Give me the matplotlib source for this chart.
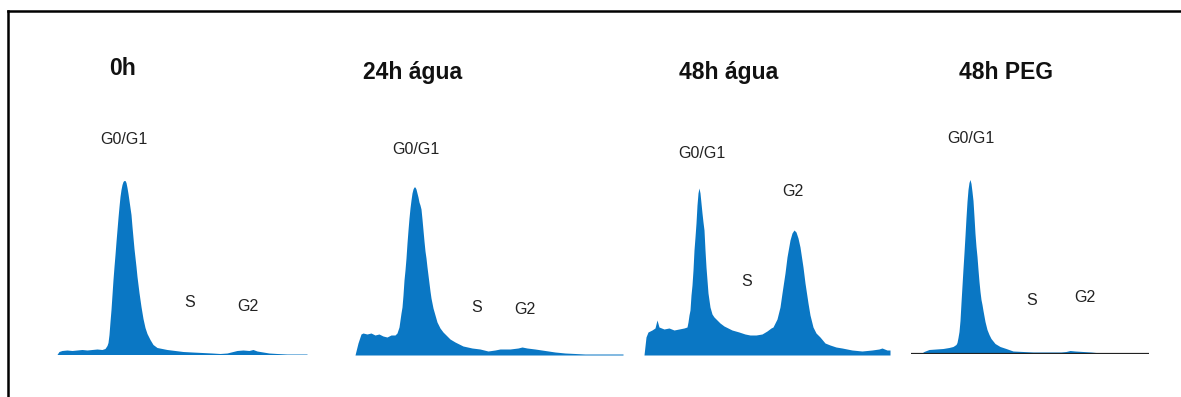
import matplotlib
matplotlib.use('Agg')
import matplotlib.pyplot as plt
from matplotlib.lines import Line2D

# Figure size in pixels
W, H = 1181, 397
dpi = 100

plt.rcParams['font.family'] = ['Liberation Sans', 'DejaVu Sans']

fill_color = '#0a77c4'
label_color = '#222222'

titles = ['0h', '24h água', '48h água', '48h PEG']

# DNA content histograms (channel, cell count)
ch_0h = [0, 2, 5, 10, 15, 20, 25, 30, 35, 40, 45, 48, 50, 51, 52, 53, 54, 55, 56, 57,
         58, 59, 60, 61, 62, 63, 64, 65, 66, 67, 68, 69, 70, 71, 72, 73, 74, 75, 76,
         77, 78, 79, 80, 81, 82, 83, 84, 85, 86, 88, 90, 93, 96, 100, 105, 110, 118,
         126, 135, 145, 155, 163, 170, 176, 180, 186, 192, 196, 200, 206, 212, 220,
         230, 240, 250]
n_0h = [0, 3, 4, 4.5, 4, 4.5, 5, 4.5, 5, 5.5, 5, 6, 9, 12, 20, 33, 45, 60, 75, 88,
        100, 113, 125, 137, 148, 158, 165, 170, 173, 174, 174, 172, 167, 161, 154, 147, 140, 128, 117,
        106, 97, 88, 78, 70, 62, 55, 48, 42, 36, 27, 21, 15, 10, 7, 6, 5, 4,
        3, 2.5, 2, 1.5, 1, 1.5, 3, 4, 4.5, 4, 5, 3.5, 2.5, 1.5, 1,
        0.5, 0.5, 0.5]

ch_24h = [0, 3, 6, 8, 12, 16, 20, 24, 28, 32, 36, 40, 42, 43, 44, 45, 46, 47, 48, 49,
          50, 51, 52, 53, 54, 55, 56, 57, 58, 59, 60, 61, 62, 63, 64, 65, 66, 67, 68,
          69, 70, 71, 72, 73, 74, 75, 76, 77, 78, 80, 82, 85, 88, 91, 95, 100, 108,
          117, 125, 133, 140, 145, 155, 163, 167, 172, 180, 190, 200, 210, 220, 230,
          245, 255, 268]
n_24h = [0, 12, 21, 22, 21, 22, 20, 21, 19, 18, 20, 20, 22, 25, 28, 35, 42, 48, 60, 75,
         85, 97, 112, 125, 137, 147, 155, 162, 166, 168, 168, 166, 162, 158, 153, 150, 146, 136, 125,
         114, 104, 97, 88, 80, 72, 64, 57, 52, 47, 40, 33, 27, 23, 20, 16, 13, 9,
         7, 6, 4, 5, 6, 6, 7, 8, 7, 6, 4.5, 3, 2, 1.5, 1,
         1, 1, 1]

ch_48h = [0, 2, 4, 8, 11, 13, 15, 20, 25, 30, 35, 40, 43, 44, 45, 46, 47, 48, 49, 50,
          51, 52, 53, 54, 55, 56, 57, 58, 59, 60, 61, 62, 63, 64, 65, 66, 68, 70, 73,
          76, 80, 84, 88, 95, 101, 106, 112, 118, 123, 127, 129, 133, 136, 138, 141,
          143, 146, 148, 150, 152, 154, 156, 159, 161, 164, 166, 169, 172, 176, 181,
          186, 192, 198, 208, 218, 228, 235, 238, 243, 246]
n_48h = [0, 18, 23, 25, 27, 35, 28, 26, 27, 25, 26, 27, 28, 33, 40, 45, 60, 70, 85, 105,
         118, 132, 150, 162, 167, 162, 152, 142, 133, 125, 105, 88, 75, 62, 55, 48, 41, 38, 35,
         32, 29, 27, 25, 23, 21, 20, 20, 21, 24, 27, 28, 36, 48, 62, 82,
         98, 115, 122, 125, 123, 117, 108, 88, 72, 52, 40, 28, 22, 18, 12,
         10, 8, 7, 5, 4, 5, 6, 7, 5, 5]

ch_peg = [0, 10, 13, 18, 25, 32, 38, 42, 45, 46, 47, 48, 49, 50, 51, 52, 53, 54, 55, 56,
          57, 58, 59, 60, 61, 62, 63, 64, 65, 66, 67, 68, 69, 70, 71, 72, 74, 76, 78,
          80, 84, 89, 95, 102, 112, 122, 140, 150, 155, 159, 164, 172, 180, 190, 192]
n_peg = [0, 0, 2, 4, 4.5, 5, 6, 7, 9, 11, 16, 22, 33, 51, 68, 85, 101, 118, 136, 152,
         164, 171, 174, 170, 162, 153, 137, 120, 107, 97, 84, 72, 62, 54, 49, 43, 32, 24, 19,
         15, 10, 7, 5, 2.5, 2, 1.5, 1.5, 1.5, 2, 3, 2.5, 2, 1.5, 0.5, 0]

# panel layout in pixels: left, width, baseline
panels = [(57, 250, 354.5), (355, 268, 355), (644, 246, 355), (911, 238, 353.5)]
channels = [ch_0h, ch_24h, ch_48h, ch_peg]
counts = [n_0h, n_24h, n_48h, n_peg]

# label positions in (channel, height) of each panel
title_pos = [(65, 286), (58, 282), (85, 282), (95, 281)]
g1_pos = [(67, 215), (61, 206), (58, 201), (60, 215)]
s_pos = [(133, 52), (122, 48), (103, 73), (121, 53)]
g2_pos = [(191, 48), (170, 46), (149, 163), (174, 56)]

fig = plt.figure(figsize=(W / dpi, H / dpi), dpi=dpi)
AX_H = 300

for i in range(4):
    left, width, base = panels[i]
    ax = fig.add_axes([left / W, (H - base) / H, width / W, AX_H / H])
    ax.fill_between(channels[i], counts[i], 0, color=fill_color, lw=0)
    ax.set_xlim(0, width)
    ax.set_ylim(0, AX_H)
    ax.axis('off')
    if i == 3:
        ax.axhline(0, color='#222222', lw=1.6)

    ax.text(*title_pos[i], titles[i], fontsize=16.5, fontweight='bold',
            ha='center', va='center', color='#111111')
    ax.text(*g1_pos[i], 'G0/G1', fontsize=11.5, ha='center', va='center', color=label_color)
    ax.text(*s_pos[i], 'S', fontsize=11.5, ha='center', va='center', color=label_color)
    ax.text(*g2_pos[i], 'G2', fontsize=11.5, ha='center', va='center', color=label_color)

# frame lines (top and left)
fig.add_artist(Line2D([8 / W, 1], [1 - 11 / H, 1 - 11 / H], transform=fig.transFigure,
                      color='black', lw=1.8))
fig.add_artist(Line2D([8 / W, 8 / W], [0, 1 - 11 / H], transform=fig.transFigure,
                      color='black', lw=1.8))

fig.savefig('out.png', dpi=dpi)
